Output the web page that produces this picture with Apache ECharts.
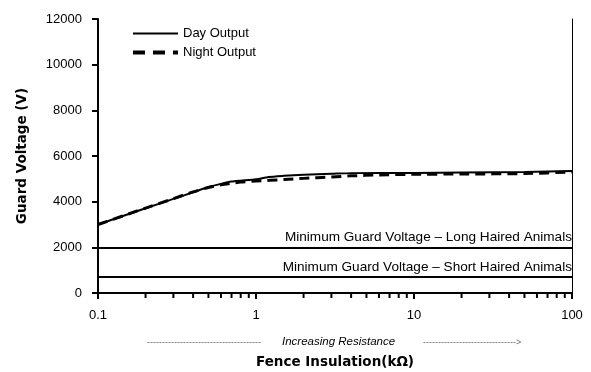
<!DOCTYPE html>
<html>
<head>
<meta charset="utf-8">
<script src="https://cdn.jsdelivr.net/npm/echarts@6/dist/echarts.min.js"></script>
<style>
  html, body { margin: 0; padding: 0; background: #fff; }
  #chart { width: 591px; height: 372px; }
</style>
</head>
<body>
<div id="chart"></div>
<script>
// Fence insulation (kΩ) sample points
const dayInsulation   = [0.1, 0.2, 0.3, 0.4, 0.5, 0.6, 0.7, 0.8, 1, 1.2, 1.5, 2, 3, 4, 10, 20, 50, 100];
const dayVoltage      = [3000, 3710, 4120, 4410, 4640, 4780, 4880, 4920, 4980, 5080, 5130, 5180, 5220, 5250, 5260, 5280, 5300, 5340];

const nightInsulation = [0.1, 0.2, 0.3, 0.4, 0.5, 0.6, 0.7, 0.8, 1, 1.5, 2, 3, 4, 6, 10, 20, 50, 100];
const nightVoltage    = [3000, 3720, 4130, 4430, 4620, 4740, 4810, 4860, 4900, 4970, 5020, 5080, 5130, 5170, 5200, 5210, 5230, 5300];

// Minimum guard voltage thresholds (V)
const longHairedMin  = 2000;
const shortHairedMin = 700;

// Log-axis minor tick positions
const minorTicks = [0.2, 0.3, 0.4, 0.5, 0.6, 0.7, 0.8, 0.9,
                    2, 3, 4, 5, 6, 7, 8, 9,
                    20, 30, 40, 50, 60, 70, 80, 90];

const xTickLabels = { 0.1: '0.1', 1: '1', 10: '10', 100: '100' };

const FONT = 'Liberation Sans, Arial, sans-serif';
const WIDE_BOLD = 'DejaVu Sans, Liberation Sans, sans-serif';

const pair = (xs, ys) => xs.map((x, i) => [x, ys[i]]);

const hiddenSymbol = { color: 'rgba(0,0,0,0)', borderColor: 'rgba(0,0,0,0)', borderWidth: 0 };

const chart = echarts.init(document.getElementById('chart'), null, { renderer: 'canvas' });

chart.setOption({
  animation: false,
  backgroundColor: '#fff',
  grid: { left: 98, right: 19, top: 19, bottom: 79, containLabel: false, outerBoundsMode: 'none' },
  legend: {
    orient: 'vertical',
    left: 131,
    top: 27,
    padding: 0,
    itemWidth: 45,
    itemHeight: 14,
    itemGap: 6,
    itemStyle: hiddenSymbol,
    textStyle: { fontFamily: FONT, fontSize: 13, color: '#000' },
    data: [
      { name: 'Day Output', itemStyle: hiddenSymbol },
      { name: 'Night Output', itemStyle: hiddenSymbol, lineStyle: { width: 4, type: [12, 8] } }
    ]
  },
  xAxis: [
    {
      type: 'log',
      logBase: 10,
      min: 0.1,
      max: 100,
      name: 'Fence Insulation(kΩ)',
      nameLocation: 'middle',
      nameGap: 62,
      nameTextStyle: { fontFamily: WIDE_BOLD, fontSize: 13.5, fontWeight: 'bold', color: '#000' },
      axisLine: { lineStyle: { color: '#000', width: 2 } },
      axisTick: { show: true, length: 6, lineStyle: { color: '#000', width: 2 } },
      axisLabel: {
        margin: 16,
        fontFamily: FONT, fontSize: 13, color: '#000',
        formatter: v => xTickLabels[+v.toPrecision(6)] || ''
      },
      splitLine: { show: false }
    },
    {
      type: 'log',
      logBase: 10,
      min: 0.1,
      max: 100,
      position: 'top',
      axisLine: { lineStyle: { color: '#000', width: 2 } },
      axisTick: { show: false },
      axisLabel: { show: false },
      splitLine: { show: false }
    }
  ],
  yAxis: [
    {
      type: 'value',
      min: 0,
      max: 12000,
      interval: 2000,
      name: 'Guard Voltage (V)',
      nameLocation: 'middle',
      nameGap: 69,
      nameTextStyle: { fontFamily: WIDE_BOLD, fontSize: 13.5, fontWeight: 'bold', color: '#000' },
      axisLine: { show: true, lineStyle: { color: '#000', width: 2 } },
      axisTick: { show: true, length: 6, lineStyle: { color: '#000', width: 2 } },
      axisLabel: { margin: 16, fontFamily: FONT, fontSize: 13, color: '#000', formatter: v => String(v) },
      splitLine: { show: false }
    },
    {
      type: 'value',
      min: 0,
      max: 12000,
      interval: 2000,
      position: 'right',
      axisLine: { show: true, lineStyle: { color: '#000', width: 1 } },
      axisTick: { show: false },
      axisLabel: { show: false },
      splitLine: { show: false }
    }
  ],
  series: [
    {
      name: 'Day Output',
      type: 'line',
      data: pair(dayInsulation, dayVoltage),
      symbol: 'none',
      smooth: 0.2,
      lineStyle: { color: '#000', width: 2, type: 'solid' },
      itemStyle: { color: '#000' },
      z: 3
    },
    {
      name: 'Night Output',
      type: 'line',
      data: pair(nightInsulation, nightVoltage),
      symbol: 'none',
      smooth: 0.2,
      lineStyle: { color: '#000', width: 3, type: [10, 6] },
      itemStyle: { color: '#000' },
      z: 3,
      markLine: {
        silent: true,
        symbol: 'none',
        lineStyle: { color: '#000', width: 2, type: 'solid' },
        label: {
          position: 'insideEndTop',
          distance: [0, 3],
          fontFamily: FONT,
          fontSize: 13.6,
          color: '#000'
        },
        data: [
          { yAxis: longHairedMin,  label: { formatter: 'Minimum Guard Voltage – Long Haired Animals' } },
          { yAxis: shortHairedMin, label: { formatter: 'Minimum Guard Voltage – Short Haired Animals' } }
        ]
      }
    },
    {
      // minor tick marks under the log x axis
      type: 'custom',
      clip: false,
      silent: true,
      data: minorTicks.map(v => [v, 0]),
      encode: { x: 0, y: 1 },
      renderItem: (params, api) => {
        const p = api.coord([api.value(0), 0]);
        return {
          type: 'line',
          shape: { x1: p[0], y1: p[1], x2: p[0], y2: p[1] + 5 },
          style: { stroke: '#000', lineWidth: 2 }
        };
      },
      z: 5
    }
  ],
  graphic: [
    {
      type: 'text',
      left: 147,
      top: 338,
      style: {
        text: '--------------------------------------',
        fontFamily: FONT, fontSize: 9, fill: '#666'
      }
    },
    {
      type: 'text',
      left: 282,
      top: 336,
      style: {
        text: 'Increasing Resistance',
        fontFamily: FONT, fontSize: 11.5, fontStyle: 'italic', fill: '#000'
      }
    },
    {
      type: 'text',
      left: 423,
      top: 338,
      style: {
        text: '------------------------------->',
        fontFamily: FONT, fontSize: 9, fill: '#666'
      }
    }
  ]
});
</script>
</body>
</html>
